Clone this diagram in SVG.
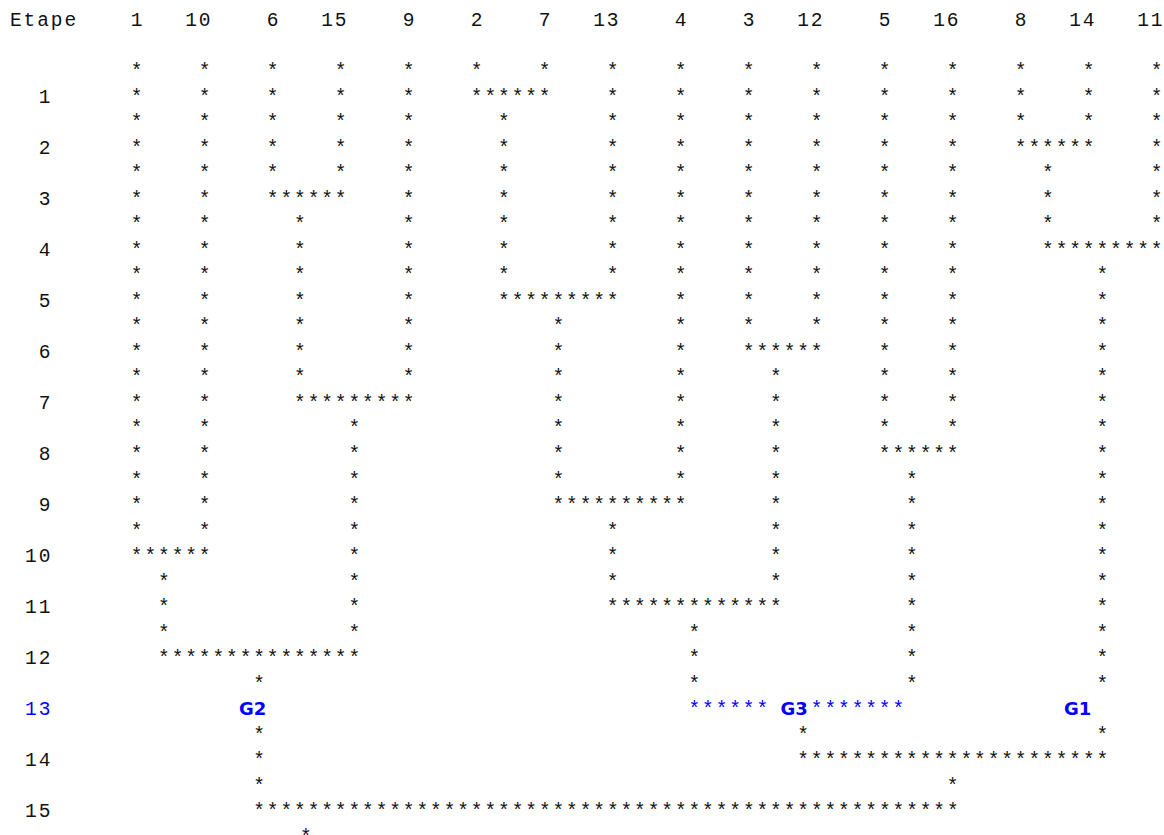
<svg xmlns="http://www.w3.org/2000/svg" width="1164" height="835" viewBox="0 0 1164 835">
<style>
.t { font-family: "Liberation Mono", "DejaVu Sans Mono", monospace; font-size: 19.5px; letter-spacing: 1.9px; fill: #111; white-space: pre; }
.blue { fill: #0000ff; }
.g { font-family: "DejaVu Sans", Verdana, sans-serif; font-weight: bold; font-size: 18px; fill: #0000ff; }
</style>
<rect x="0" y="0" width="1164" height="835" fill="#ffffff"/>

<g id="header">
  <text class="t" x="10" y="26">Etape</text>
  <g transform="translate(130.85,0)">
    <text class="t" x="0" y="26">1</text>
    <text class="t" x="54.4" y="26">10</text>
    <text class="t" x="136" y="26">6</text>
    <text class="t" x="190.4" y="26">15</text>
    <text class="t" x="272" y="26">9</text>
    <text class="t" x="340" y="26">2</text>
    <text class="t" x="408" y="26">7</text>
    <text class="t" x="462.4" y="26">13</text>
    <text class="t" x="544" y="26">4</text>
    <text class="t" x="612" y="26">3</text>
    <text class="t" x="666.4" y="26">12</text>
    <text class="t" x="748" y="26">5</text>
    <text class="t" x="802.4" y="26">16</text>
    <text class="t" x="884" y="26">8</text>
    <text class="t" x="938.4" y="26">14</text>
    <text class="t" x="1006.4" y="26">11</text>
  </g>
</g>

<g id="row-labels">
  <text class="t" x="38.65" y="102.59">1</text>
  <text class="t" x="38.65" y="153.65">2</text>
  <text class="t" x="38.65" y="204.71">3</text>
  <text class="t" x="38.65" y="255.77">4</text>
  <text class="t" x="38.65" y="306.83">5</text>
  <text class="t" x="38.65" y="357.89">6</text>
  <text class="t" x="38.65" y="408.95">7</text>
  <text class="t" x="38.65" y="460.01">8</text>
  <text class="t" x="38.65" y="511.07">9</text>
  <text class="t" x="25.05" y="562.13">10</text>
  <text class="t" x="25.05" y="613.19">11</text>
  <text class="t" x="25.05" y="664.25">12</text>
  <text class="t blue" x="25.05" y="715.31">13</text>
  <text class="t" x="25.05" y="766.37">14</text>
  <text class="t" x="25.05" y="817.43">15</text>
</g>

<g id="connectors" transform="translate(130.85,0)">
  <g id="verticals">
    <text class="t" x="0 0 0 0 0 0 0 0 0 0 0 0 0 0 0 0 0 0 0" y="77.06 102.59 128.12 153.65 179.18 204.71 230.24 255.77 281.3 306.83 332.36 357.89 383.42 408.95 434.48 460.01 485.54 511.07 536.6">*******************</text>
    <text class="t" x="68 68 68 68 68 68 68 68 68 68 68 68 68 68 68 68 68 68 68" y="77.06 102.59 128.12 153.65 179.18 204.71 230.24 255.77 281.3 306.83 332.36 357.89 383.42 408.95 434.48 460.01 485.54 511.07 536.6">*******************</text>
    <text class="t" x="136 136 136 136 136" y="77.06 102.59 128.12 153.65 179.18">*****</text>
    <text class="t" x="204 204 204 204 204" y="77.06 102.59 128.12 153.65 179.18">*****</text>
    <text class="t" x="272 272 272 272 272 272 272 272 272 272 272 272 272" y="77.06 102.59 128.12 153.65 179.18 204.71 230.24 255.77 281.3 306.83 332.36 357.89 383.42">*************</text>
    <text class="t" x="340" y="77.06">*</text>
    <text class="t" x="408" y="77.06">*</text>
    <text class="t" x="476 476 476 476 476 476 476 476 476" y="77.06 102.59 128.12 153.65 179.18 204.71 230.24 255.77 281.3">*********</text>
    <text class="t" x="544 544 544 544 544 544 544 544 544 544 544 544 544 544 544 544 544" y="77.06 102.59 128.12 153.65 179.18 204.71 230.24 255.77 281.3 306.83 332.36 357.89 383.42 408.95 434.48 460.01 485.54">*****************</text>
    <text class="t" x="612 612 612 612 612 612 612 612 612 612 612" y="77.06 102.59 128.12 153.65 179.18 204.71 230.24 255.77 281.3 306.83 332.36">***********</text>
    <text class="t" x="680 680 680 680 680 680 680 680 680 680 680" y="77.06 102.59 128.12 153.65 179.18 204.71 230.24 255.77 281.3 306.83 332.36">***********</text>
    <text class="t" x="748 748 748 748 748 748 748 748 748 748 748 748 748 748 748" y="77.06 102.59 128.12 153.65 179.18 204.71 230.24 255.77 281.3 306.83 332.36 357.89 383.42 408.95 434.48">***************</text>
    <text class="t" x="816 816 816 816 816 816 816 816 816 816 816 816 816 816 816" y="77.06 102.59 128.12 153.65 179.18 204.71 230.24 255.77 281.3 306.83 332.36 357.89 383.42 408.95 434.48">***************</text>
    <text class="t" x="884 884 884" y="77.06 102.59 128.12">***</text>
    <text class="t" x="952 952 952" y="77.06 102.59 128.12">***</text>
    <text class="t" x="1020 1020 1020 1020 1020 1020 1020" y="77.06 102.59 128.12 153.65 179.18 204.71 230.24">*******</text>
    <text class="t" x="367.2 367.2 367.2 367.2 367.2 367.2 367.2" y="128.12 153.65 179.18 204.71 230.24 255.77 281.3">*******</text>
    <text class="t" x="911.2 911.2 911.2" y="179.18 204.71 230.24">***</text>
    <text class="t" x="163.2 163.2 163.2 163.2 163.2 163.2 163.2" y="230.24 255.77 281.3 306.83 332.36 357.89 383.42">*******</text>
    <text class="t" x="965.6 965.6 965.6 965.6 965.6 965.6 965.6 965.6 965.6 965.6 965.6 965.6 965.6 965.6 965.6 965.6 965.6 965.6" y="281.3 306.83 332.36 357.89 383.42 408.95 434.48 460.01 485.54 511.07 536.6 562.13 587.66 613.19 638.72 664.25 689.78 740.84">******************</text>
    <text class="t" x="421.6 421.6 421.6 421.6 421.6 421.6 421.6" y="332.36 357.89 383.42 408.95 434.48 460.01 485.54">*******</text>
    <text class="t" x="639.2 639.2 639.2 639.2 639.2 639.2 639.2 639.2 639.2" y="383.42 408.95 434.48 460.01 485.54 511.07 536.6 562.13 587.66">*********</text>
    <text class="t" x="217.6 217.6 217.6 217.6 217.6 217.6 217.6 217.6 217.6" y="434.48 460.01 485.54 511.07 536.6 562.13 587.66 613.19 638.72">*********</text>
    <text class="t" x="775.2 775.2 775.2 775.2 775.2 775.2 775.2 775.2 775.2" y="485.54 511.07 536.6 562.13 587.66 613.19 638.72 664.25 689.78">*********</text>
    <text class="t" x="476 476 476" y="536.6 562.13 587.66">***</text>
    <text class="t" x="27.2 27.2 27.2" y="587.66 613.19 638.72">***</text>
    <text class="t" x="557.6 557.6 557.6" y="638.72 664.25 689.78">***</text>
    <text class="t" x="122.4 122.4 122.4 122.4" y="689.78 740.84 766.37 791.9">****</text>
    <text class="t" x="666.4" y="740.84">*</text>
    <text class="t" x="816" y="791.9">*</text>
    <text class="t" x="169.15" y="842.96">*</text>
  </g>
  <g id="horizontals">
    <text class="t" x="340" y="102.59">******</text>
    <text class="t" x="884" y="153.65">******</text>
    <text class="t" x="136" y="204.71">******</text>
    <text class="t" x="911.2" y="255.77">*********</text>
    <text class="t" x="367.2" y="306.83">*********</text>
    <text class="t" x="612" y="357.89">******</text>
    <text class="t" x="163.2" y="408.95">*********</text>
    <text class="t" x="748" y="460.01">******</text>
    <text class="t" x="421.6" y="511.07">**********</text>
    <text class="t" x="0" y="562.13">******</text>
    <text class="t" x="476" y="613.19">*************</text>
    <text class="t" x="27.2" y="664.25">***************</text>
    <text class="t blue" x="557.6" y="715.31">******</text>
    <text class="t blue" x="680" y="715.31">*******</text>
    <text class="t" x="666.4" y="766.37">***********************</text>
    <text class="t" x="122.4" y="817.43">****************************************************</text>
  </g>
</g>

<g id="clusters">
  <g id="G2"><text class="g" x="239" y="714.5">G2</text></g>
  <g id="G3"><text class="g" x="780.5" y="714.5">G3</text></g>
  <g id="G1"><text class="g" x="1064" y="714.5">G1</text></g>
</g>
</svg>
